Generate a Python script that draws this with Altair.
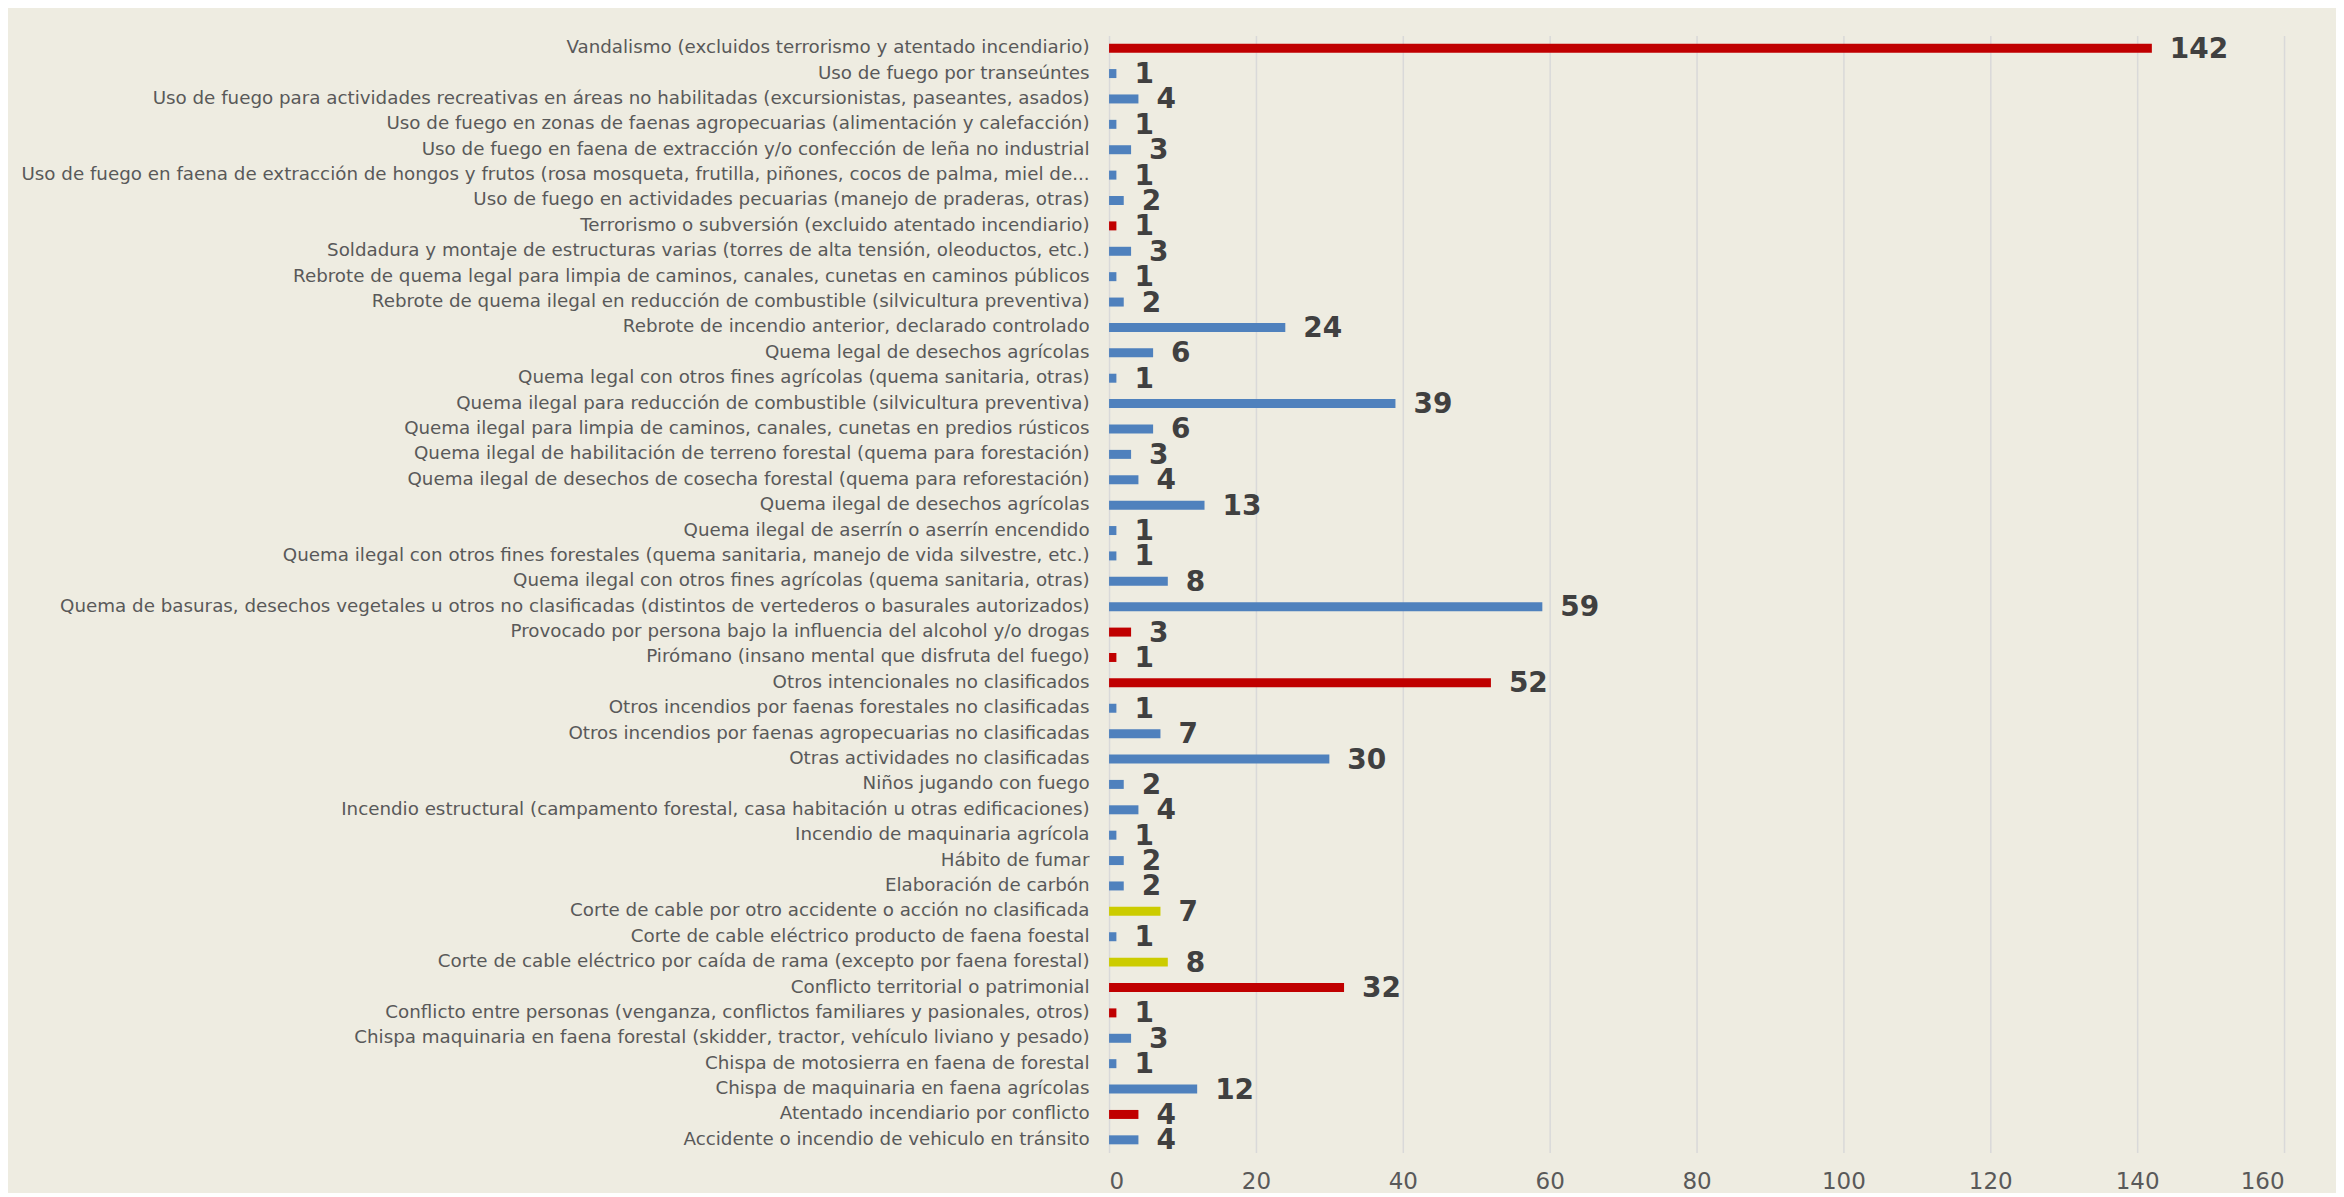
import altair as alt
import pandas as pd

categories = [
    "Vandalismo (excluidos terrorismo y atentado incendiario)",
    "Uso de fuego por transeúntes",
    "Uso de fuego para actividades recreativas en áreas no habilitadas (excursionistas, paseantes, asados)",
    "Uso de fuego en zonas de faenas agropecuarias (alimentación y calefacción)",
    "Uso de fuego en faena de extracción y/o confección de leña no industrial",
    "Uso de fuego en faena de extracción de hongos y frutos (rosa mosqueta, frutilla, piñones, cocos de palma, miel de...",
    "Uso de fuego en actividades pecuarias (manejo de praderas, otras)",
    "Terrorismo o subversión (excluido atentado incendiario)",
    "Soldadura y montaje de estructuras varias (torres de alta tensión, oleoductos, etc.)",
    "Rebrote de quema legal para limpia de caminos, canales, cunetas en caminos públicos",
    "Rebrote de quema ilegal en reducción de combustible (silvicultura preventiva)",
    "Rebrote de incendio anterior, declarado controlado",
    "Quema legal de desechos agrícolas",
    "Quema legal con otros fines agrícolas (quema sanitaria, otras)",
    "Quema ilegal para reducción de combustible (silvicultura preventiva)",
    "Quema ilegal para limpia de caminos, canales, cunetas en predios rústicos",
    "Quema ilegal de habilitación de terreno forestal (quema para forestación)",
    "Quema ilegal de desechos de cosecha forestal (quema para reforestación)",
    "Quema ilegal de desechos agrícolas",
    "Quema ilegal de aserrín o aserrín encendido",
    "Quema ilegal con otros fines forestales (quema sanitaria, manejo de vida silvestre, etc.)",
    "Quema ilegal con otros fines agrícolas (quema sanitaria, otras)",
    "Quema de basuras, desechos vegetales u otros no clasificadas (distintos de vertederos o basurales autorizados)",
    "Provocado por persona bajo la influencia del alcohol y/o drogas",
    "Pirómano (insano mental que disfruta del fuego)",
    "Otros intencionales no clasificados",
    "Otros incendios por faenas forestales no clasificadas",
    "Otros incendios por faenas agropecuarias no clasificadas",
    "Otras actividades no clasificadas ",
    "Niños jugando con fuego",
    "Incendio estructural (campamento forestal, casa habitación u otras edificaciones)",
    "Incendio de maquinaria agrícola",
    "Hábito de fumar",
    "Elaboración de carbón",
    "Corte de cable por otro accidente o acción no clasificada",
    "Corte de cable eléctrico producto de faena foestal",
    "Corte de cable eléctrico por caída de rama (excepto por faena forestal)",
    "Conflicto territorial o patrimonial",
    "Conflicto entre personas (venganza, conflictos familiares y pasionales, otros)",
    "Chispa maquinaria en faena forestal (skidder, tractor, vehículo liviano y pesado)",
    "Chispa de motosierra en faena de forestal",
    "Chispa de maquinaria en faena agrícolas",
    "Atentado incendiario por conflicto",
    "Accidente o incendio de vehiculo en tránsito",
]

values = [142, 1, 4, 1, 3, 1, 2, 1, 3, 1, 2, 24, 6, 1, 39, 6, 3, 4, 13, 1, 1, 8,
          59, 3, 1, 52, 1, 7, 30, 2, 4, 1, 2, 2, 7, 1, 8, 32, 1, 3, 1, 12, 4, 4]

BLUE = "#4F81BD"
RED = "#C00000"
YELLOW = "#CCCC00"
colors = [RED, BLUE, BLUE, BLUE, BLUE, BLUE, BLUE, RED, BLUE, BLUE, BLUE, BLUE,
          BLUE, BLUE, BLUE, BLUE, BLUE, BLUE, BLUE, BLUE, BLUE, BLUE, BLUE, RED,
          RED, RED, BLUE, BLUE, BLUE, BLUE, BLUE, BLUE, BLUE, BLUE, YELLOW, BLUE,
          YELLOW, RED, RED, BLUE, BLUE, BLUE, RED, BLUE]

x_ticks = [0, 20, 40, 60, 80, 100, 120, 140, 160]

df = pd.DataFrame({"cat": categories, "val": values, "col": colors})

base = alt.Chart(df).encode(
    y=alt.Y(
        "cat:N",
        sort=None,
        title=None,
        axis=alt.Axis(
            labelFont="DejaVu Sans",
            labelFontSize=18.3,
            labelColor="#595959",
            labelPadding=20,
            labelLimit=1300,
            ticks=False,
            tickSize=0,
            domain=False,
            grid=False,
        ),
    ),
    x=alt.X(
        "val:Q",
        title=None,
        scale=alt.Scale(domain=[0, 160], nice=False),
        axis=alt.Axis(
            values=x_ticks,
            labelFont="DejaVu Sans",
            labelFontSize=23,
            labelColor="#595959",
            labelPadding=18,
            ticks=False,
            tickSize=0,
            domain=False,
            grid=True,
            gridColor="#D9D9D9",
            gridWidth=1.5,
        ),
    ),
)

bars = base.mark_bar(size=9).encode(color=alt.Color("col:N", scale=None, legend=None))
text = base.mark_text(
    align="left",
    baseline="middle",
    dx=18,
    dy=1.5,
    font="DejaVu Sans",
    fontSize=28,
    fontWeight="bold",
    color="#404040",
).encode(text="val:Q")

chart = (
    (bars + text)
    .properties(
        width=1176,
        height=1118,
        background="#EEECE1",
        padding={"left": 1102, "top": 27, "right": 52, "bottom": 40},
        autosize=alt.AutoSizeParams(type="none"),
    )
    .configure_view(stroke=None)
)

chart.save("out.html", embed_options={"renderer": "svg", "actions": False})
